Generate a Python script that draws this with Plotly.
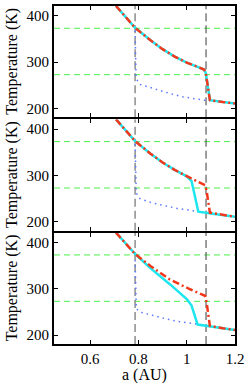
import plotly.graph_objects as go
from plotly.subplots import make_subplots

# ---- data ----
X_TICKS = [0.6, 0.8, 1.0, 1.2]
X_TICK_LABELS = ["0.6", "0.8", "1", "1.2"]
Y_TICKS = [200, 300, 400]
H_LINES_T = [373, 273]          # green dashed horizontal lines (K)
V_GRAY_A = 0.786                # gray dashed vertical line (AU)
V_BLACK_A = 1.08                # black dashed vertical line (AU)

# panel 1
p1_red_a = [0.707, 0.75, 0.786, 0.85, 0.9, 0.95, 1.0, 1.04, 1.072, 1.079, 1.096, 1.15, 1.2]
p1_red_t = [421, 396, 374, 347, 328, 312, 299, 291, 284, 277, 218, 214, 211]
p1_cyan_a = p1_red_a
p1_cyan_t = p1_red_t
p1_blue_a = [0.786, 0.788, 0.79, 0.806, 0.85, 0.889, 0.94, 0.986, 1.03, 1.072, 1.096]
p1_blue_t = [368, 320, 265, 252, 245, 238, 231, 225, 221, 218, 218]

# panel 2
p2_red_a = [0.707, 0.75, 0.786, 0.85, 0.9, 0.95, 1.0, 1.04, 1.076, 1.082, 1.096, 1.15, 1.2]
p2_red_t = [421, 396, 374, 347, 328, 312, 298, 288, 279, 268, 220, 216, 211]
p2_cyan_a = [0.707, 0.75, 0.786, 0.85, 0.9, 0.95, 1.0, 1.02, 1.048, 1.1, 1.15, 1.2]
p2_cyan_t = [421, 396, 374, 347, 328, 312, 298, 288, 222, 218, 215, 211]
p2_blue_a = [0.786, 0.788, 0.791, 0.806, 0.85, 0.89, 0.933, 0.96, 1.0, 1.048]
p2_blue_t = [368, 315, 262, 250, 242, 237, 232, 229, 226, 222]

# panel 3
p3_red_a = [0.707, 0.75, 0.786, 0.85, 0.93, 1.014, 1.076, 1.082, 1.096, 1.15, 1.2]
p3_red_t = [421, 396, 375, 349, 320, 299, 285, 272, 220, 215, 211]
p3_cyan_a = [0.707, 0.75, 0.786, 0.848, 0.93, 1.0, 1.02, 1.045, 1.1, 1.15, 1.2]
p3_cyan_t = [421, 396, 375, 345, 310, 278, 264, 223, 218, 215, 211]
p3_blue_a = [0.786, 0.788, 0.791, 0.806, 0.848, 0.9, 0.958, 1.0, 1.045]
p3_blue_t = [362, 310, 257, 250, 244, 237, 230, 227, 224]

PANELS = [
    (p1_cyan_a, p1_cyan_t, p1_red_a, p1_red_t, p1_blue_a, p1_blue_t),
    (p2_cyan_a, p2_cyan_t, p2_red_a, p2_red_t, p2_blue_a, p2_blue_t),
    (p3_cyan_a, p3_cyan_t, p3_red_a, p3_red_t, p3_blue_a, p3_blue_t),
]

X_RANGE = [0.45, 1.2]
Y_RANGE = [181, 421]

FONT = "Liberation Serif, Times New Roman, DejaVu Serif, serif"
W, H = 249, 383
ML, MR, MT, MB = 54, 14, 4, 39
PLOT_H = H - MT - MB

fig = make_subplots(rows=3, cols=1, shared_xaxes=True,
                    vertical_spacing=2.0 / PLOT_H)

for i, (ca, ct, ra, rt, ba, bt) in enumerate(PANELS, start=1):
    # reference lines
    for t in H_LINES_T:
        fig.add_trace(go.Scatter(x=X_RANGE, y=[t, t], mode="lines",
                                 line=dict(color="#4cf04c", width=1, dash="6px,4px"),
                                 showlegend=False, hoverinfo="skip"), row=i, col=1)
    fig.add_trace(go.Scatter(x=[V_GRAY_A, V_GRAY_A], y=Y_RANGE, mode="lines",
                             line=dict(color="#8c8c8c", width=1.5, dash="8px,4px"),
                             showlegend=False, hoverinfo="skip"), row=i, col=1)
    fig.add_trace(go.Scatter(x=[V_BLACK_A, V_BLACK_A], y=Y_RANGE, mode="lines",
                             line=dict(color="#3a3a3a", width=1, dash="8px,4px"),
                             showlegend=False, hoverinfo="skip"), row=i, col=1)
    # curves
    fig.add_trace(go.Scatter(x=ba, y=bt, mode="lines",
                             line=dict(color="#5a78ff", width=1.5, dash="1.5px,4px"),
                             showlegend=False), row=i, col=1)
    fig.add_trace(go.Scatter(x=ca, y=ct, mode="lines",
                             line=dict(color="#1ee6ee", width=2.5),
                             showlegend=False), row=i, col=1)
    fig.add_trace(go.Scatter(x=ra, y=rt, mode="lines",
                             line=dict(color="#f2381c", width=2.5, dash="7px,3px,2px,3px"),
                             showlegend=False), row=i, col=1)

    fig.update_yaxes(range=Y_RANGE, tickvals=Y_TICKS, ticks="inside", ticklen=4,
                     tickcolor="black", showline=True, linecolor="black", linewidth=2,
                     mirror="ticks", showgrid=False, zeroline=False,
                     tickfont=dict(family=FONT, size=15, color="black"), row=i, col=1)
    fig.update_xaxes(range=X_RANGE, tickvals=X_TICKS, ticktext=X_TICK_LABELS,
                     ticks="inside", ticklen=4, tickcolor="black", showline=True,
                     linecolor="black", linewidth=2, mirror="ticks", showgrid=False,
                     zeroline=False, tickfont=dict(family=FONT, size=15, color="black"),
                     showticklabels=(i == 3), row=i, col=1)

    yref = "y domain" if i == 1 else f"y{i} domain"
    fig.add_annotation(text="Temperature (K)", textangle=-90, showarrow=False,
                       xref="paper", x=(12 - ML) / (W - ML - MR), xanchor="center",
                       yref=yref, y=0.5, yanchor="middle",
                       font=dict(family=FONT, size=16, color="black"))

fig.add_annotation(text="a (AU)", showarrow=False, xref="paper", x=0.5,
                   xanchor="center", yref="paper",
                   y=-(375 - (H - MB)) / PLOT_H, yanchor="middle",
                   font=dict(family=FONT, size=16, color="black"))

fig.update_layout(width=W, height=H, autosize=False,
                  margin=dict(l=ML, r=MR, t=MT, b=MB),
                  paper_bgcolor="white", plot_bgcolor="white", showlegend=False,
                  font=dict(family=FONT))

fig.write_html("out.html", config={"displayModeBar": False},
               post_script="document.body.style.margin='0';document.body.style.overflow='hidden';")
